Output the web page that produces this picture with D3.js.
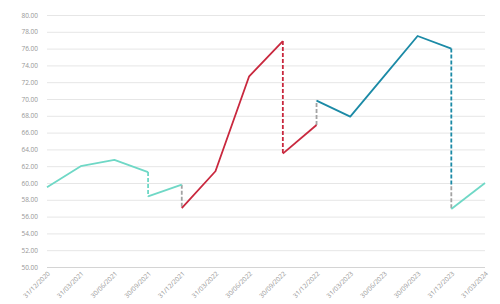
<!DOCTYPE html>
<html>
<head>
<meta charset="utf-8">
<script src="https://cdn.jsdelivr.net/npm/d3@7"></script>
<style>
  body { margin: 0; background: #fff; }
  text { font-family: "Open Sans", sans-serif; fill: #969696; }
</style>
</head>
<body>
<svg width="500" height="304"></svg>
<script>
// Quarter-end dates on the x axis
var dates = ['31/12/2020', '31/03/2021', '30/06/2021', '30/09/2021', '31/12/2021',
  '31/03/2022', '30/06/2022', '30/09/2022', '31/12/2022', '31/03/2023',
  '30/06/2023', '30/09/2023', '31/12/2023', '31/03/2024'];

// Y axis ticks
var yTicks = [50, 52, 54, 56, 58, 60, 62, 64, 66, 68, 70, 72, 74, 76, 78, 80];

// Solid segments (value per date, null = no point)
var tealA = [59.5, 62.0, 62.75, 61.3, null, null, null, null, null, null, null, null, null, null];
var tealB = [null, null, null, 58.4, 59.8, null, null, null, null, null, null, null, null, null];
var redA  = [null, null, null, null, 57.0, 61.4, 72.7, 76.9, null, null, null, null, null, null];
var redB  = [null, null, null, null, null, null, null, 63.5, 66.9, null, null, null, null, null];
var blue  = [null, null, null, null, null, null, null, null, 69.8, 67.9, 72.7, 77.5, 76.0, null];
var tealC = [null, null, null, null, null, null, null, null, null, null, null, null, 56.9, 60.0];

// Dashed vertical jumps: date, from, to, colour key
var jumpDates = ['30/09/2021', '31/12/2021', '30/09/2022', '31/12/2022', '31/12/2023', '31/12/2023'];
var jumpFrom  = [61.3, 59.8, 76.9, 66.9, 76.0, 59.6];
var jumpTo    = [58.4, 57.0, 63.5, 69.8, 59.6, 56.9];
var jumpKind  = ['teal', 'gray', 'red', 'gray', 'blue', 'gray'];

var colors = { teal: '#6fd8c6', red: '#c9283e', blue: '#1b8aa6', gray: '#a3a3a3' };

var svg = d3.select('svg');
var margin = { left: 47, right: 15, top: 15, bottom: 37 };
var width = 500 - margin.left - margin.right;
var height = 304 - margin.top - margin.bottom;

var x = d3.scalePoint().domain(dates).range([0, width]);
var y = d3.scaleLinear().domain([50, 80]).range([height, 0]);

var g = svg.append('g')
  .attr('transform', 'translate(' + margin.left + ',' + margin.top + ')');

// Gridlines
g.append('g')
  .selectAll('line')
  .data(yTicks)
  .join('line')
  .attr('x1', 0)
  .attr('x2', width)
  .attr('y1', function (d) { return y(d) + 0.5; })
  .attr('y2', function (d) { return y(d) + 0.5; })
  .attr('stroke', function (d) { return d === 50 ? '#d4d4d4' : '#e6e6e6'; })
  .attr('stroke-width', 1);

// Y axis labels
var yAxis = d3.axisLeft(y).tickValues(yTicks).tickSize(0).tickPadding(9)
  .tickFormat(d3.format('.2f'));
g.append('g').call(yAxis)
  .call(function (a) { a.select('.domain').remove(); })
  .selectAll('text')
  .style('font-size', '6.5px');

// X axis labels
var xAxis = d3.axisBottom(x).tickSize(0).tickPadding(0);
g.append('g')
  .attr('transform', 'translate(0,' + height + ')')
  .call(xAxis)
  .call(function (a) { a.select('.domain').remove(); })
  .selectAll('text')
  .style('font-size', '6.5px')
  .attr('text-anchor', 'end')
  .attr('dy', 0)
  .attr('transform', 'translate(3,7) rotate(-45)');

var line = d3.line()
  .defined(function (d) { return d != null; })
  .x(function (d, i) { return x(dates[i]); })
  .y(function (d) { return y(d); });

// Dashed jumps first, so solid lines sit on top
jumpDates.forEach(function (d, i) {
  g.append('line')
    .attr('x1', x(d)).attr('x2', x(d))
    .attr('y1', y(jumpFrom[i])).attr('y2', y(jumpTo[i]))
    .attr('stroke', colors[jumpKind[i]])
    .attr('stroke-width', 1.8)
    .attr('stroke-dasharray', '4,2');
});

[[tealA, 'teal'], [tealB, 'teal'], [redA, 'red'], [redB, 'red'], [blue, 'blue'], [tealC, 'teal']]
  .forEach(function (s) {
    g.append('path')
      .datum(s[0])
      .attr('fill', 'none')
      .attr('stroke', colors[s[1]])
      .attr('stroke-width', 1.8)
      .attr('stroke-linejoin', 'round')
      .attr('d', line);
  });
</script>
</body>
</html>
